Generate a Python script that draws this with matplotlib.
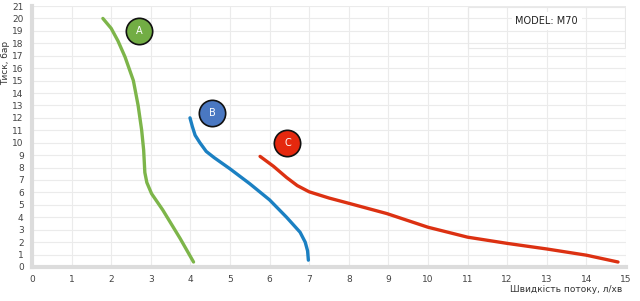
import matplotlib.pyplot as plt
from matplotlib.patches import Rectangle

# curve A (green)
a_flow = [1.79, 2.0, 2.17, 2.35, 2.56, 2.68, 2.77, 2.82, 2.85, 2.9, 3.02, 3.3, 3.74, 4.08]
a_pres = [20.0, 19.2, 18.2, 16.9, 15.0, 13.0, 11.0, 9.4, 7.6, 6.8, 5.9, 4.6, 2.3, 0.4]

# curve B (blue)
b_flow = [3.99, 4.05, 4.12, 4.24, 4.4, 4.6, 5.0, 5.5, 6.0, 6.43, 6.77, 6.9, 6.96, 6.98]
b_pres = [12.0, 11.3, 10.6, 10.0, 9.3, 8.8, 7.9, 6.7, 5.4, 4.0, 2.8, 2.0, 1.3, 0.55]

# curve C (red)
c_flow = [5.76, 6.1, 6.43, 6.7, 7.0, 7.5, 8.03, 8.96, 10.0, 11.0, 12.0, 13.0, 14.0, 14.8]
c_pres = [8.9, 8.1, 7.2, 6.55, 6.05, 5.55, 5.1, 4.3, 3.2, 2.4, 1.9, 1.45, 0.95, 0.4]

curve_names = ['A', 'B', 'C']
label_x = [2.7, 4.55, 6.45]
label_y = [19.0, 12.4, 10.0]

line_colours = ['#7db54a', '#1b80c2', '#dc3112']
dot_colours = ['#72ad44', '#4a78c2', '#e5280e']

fig = plt.figure(figsize=(6.4, 3.01), dpi=100)
ax = fig.add_axes([0.05, 0.113, 0.928, 0.867])

for fx, py, col in zip([a_flow, b_flow, c_flow], [a_pres, b_pres, c_pres], line_colours):
    ax.plot(fx, py, color=col, lw=2.4, solid_capstyle='round', solid_joinstyle='round', zorder=3)

for name, lx, ly, col in zip(curve_names, label_x, label_y, dot_colours):
    ax.scatter([lx], [ly], s=360, color=col, edgecolor='#111111', linewidth=1.2, zorder=4)
    ax.text(lx, ly, name, color='white', fontsize=7, ha='center', va='center', zorder=5)

ax.set_xlim(0, 15)
ax.set_ylim(0, 21)
ax.set_xticks(range(0, 16))
ax.set_yticks(range(0, 22))
ax.grid(True, color='#ebebeb', lw=0.8)
ax.set_axisbelow(True)
for side in ['top', 'right']:
    ax.spines[side].set_visible(False)
for side in ['left', 'bottom']:
    ax.spines[side].set_color('#dcdcdc')
    ax.spines[side].set_linewidth(3)
ax.tick_params(length=0, labelsize=6.5, labelcolor='#444444', pad=6)

ax.add_patch(Rectangle((11.0, 17.6), 3.97, 3.3, fill=False, ec='#e8e8e8', lw=0.8, zorder=2))
ax.text(13.0, 19.8, 'MODEL: M70', fontsize=7, color='#222222', ha='center', va='center',
        zorder=5, bbox=dict(boxstyle='square,pad=0.4', fc='white', ec='none'))

ax.set_ylabel('Тиск, бар', fontsize=6.5, color='#333333', labelpad=4)
ax.yaxis.set_label_coords(-0.037, 0.78)
ax.set_xlabel('Швидкість потоку, л/хв', fontsize=6.5, color='#333333')
ax.xaxis.set_label_coords(0.9, -0.07)

fig.savefig('out.png', dpi=100)
